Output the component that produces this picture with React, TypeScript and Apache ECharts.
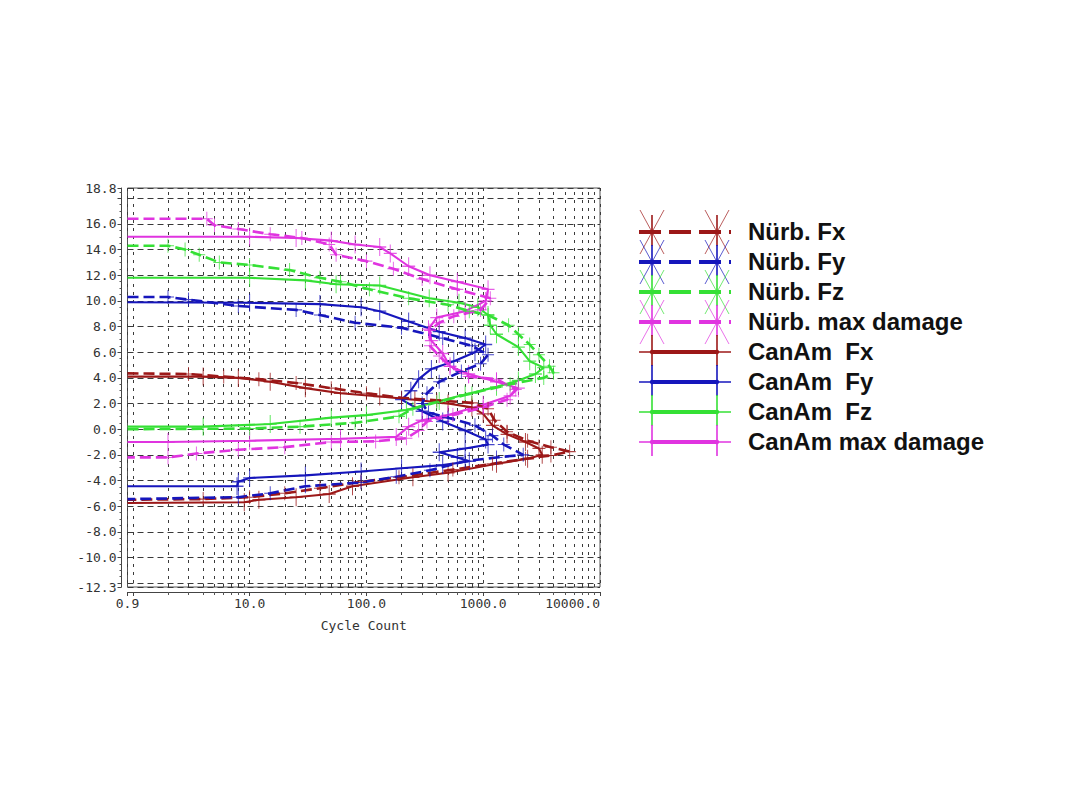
import React, { useEffect, useRef } from "react";
import * as echarts from "echarts";

// ---------- data (cycle count, range value) ----------
const nurbFx: [number, number][] = [
  [0.9, 4.35], [3, 4.3], [6, 4.1], [12, 3.9], [25, 3.6], [50, 3.2], [100, 2.8],
  [200, 2.45], [400, 2.25], [800, 2.05], [1100, 1.6], [1250, 0.7], [1600, -0.2],
  [2400, -0.9], [3800, -1.4], [5500, -1.75], [3800, -2.05], [2300, -2.3],
  [1200, -2.7], [550, -3.15], [190, -3.75], [90, -4.1], [40, -4.6], [20, -5.0],
  [10, -5.3], [4, -5.45], [0.9, -5.5],
];
const nurbFy: [number, number][] = [
  [0.9, 10.3], [2, 10.3], [3, 10.1], [8, 9.6], [25, 9.3], [40, 8.9], [80, 8.3],
  [200, 7.9], [450, 7.1], [800, 6.5], [1100, 5.8], [950, 5.1], [650, 4.5],
  [420, 3.7], [330, 2.8], [300, 2.0], [340, 1.3], [500, 0.9], [850, 0.3],
  [1200, -0.5], [1500, -1.2], [2200, -2.0], [1300, -2.2], [700, -2.5],
  [350, -3.2], [180, -3.7], [90, -4.15], [30, -4.45], [15, -5.0], [8, -5.3],
  [0.9, -5.45],
];
const nurbFz: [number, number][] = [
  [0.9, 14.3], [2, 14.3], [2.8, 14.0], [3.7, 13.6], [5.5, 13.0], [10, 12.8],
  [22, 12.4], [40, 11.8], [60, 11.5], [106, 10.9], [230, 10.2], [500, 9.7],
  [760, 9.2], [1100, 8.9], [1650, 8.1], [2000, 7.4], [2500, 6.6], [3000, 5.8],
  [3700, 4.9], [4000, 4.4], [3300, 4.0], [1700, 3.5], [800, 2.8], [400, 2.1],
  [250, 1.6], [190, 1.0], [80, 0.5], [27, 0.2], [10, 0.05], [0.9, 0.0],
];
const nurbMax: [number, number][] = [
  [0.9, 16.4], [4.3, 16.4], [5, 15.9], [8, 15.6], [15, 15.2], [28, 14.9],
  [48, 14.4], [55, 13.6], [100, 13.1], [170, 12.5], [300, 11.7], [600, 10.9],
  [1150, 10.2], [950, 9.3], [560, 8.8], [420, 8.3], [350, 7.7], [350, 6.5],
  [420, 5.7], [520, 4.9], [750, 4.1], [1300, 3.9], [1900, 3.1], [1600, 2.3],
  [1000, 1.7], [550, 1.1], [330, 0.6], [280, -0.1], [220, -0.7], [120, -0.95],
  [50, -1.0], [20, -1.4], [8, -1.6], [3.5, -1.9], [2, -2.2], [0.9, -2.2],
];
const canFx: [number, number][] = [
  [0.9, 4.1], [4, 4.1], [8, 4.0], [15, 3.7], [30, 3.2], [60, 2.8], [130, 2.55],
  [260, 2.3], [500, 2.0], [800, 1.7], [1000, 1.2], [1200, 0.3], [1600, -0.4],
  [2300, -1.0], [3000, -1.5], [3200, -2.0], [2400, -2.3], [1300, -2.7],
  [500, -3.4], [250, -3.75], [76, -4.45], [48, -5.05], [25, -5.3], [12, -5.5],
  [9, -5.7], [0.9, -5.75],
];
const canFy: [number, number][] = [
  [0.9, 9.9], [10, 9.85], [40, 9.75], [90, 9.5], [130, 9.2], [230, 8.4],
  [420, 7.6], [700, 7.1], [1050, 6.6], [850, 6.0], [560, 5.3], [360, 4.7],
  [280, 3.9], [240, 3.0], [200, 2.3], [300, 1.4], [450, 0.6], [700, -0.1],
  [1050, -0.8], [1100, -1.2], [700, -1.5], [420, -1.8], [600, -2.2],
  [760, -2.5], [450, -2.8], [200, -3.05], [90, -3.3], [30, -3.6], [10, -3.8],
  [8, -4.1], [7.8, -4.45], [0.9, -4.45],
];
const canFz: [number, number][] = [
  [0.9, 11.8], [10, 11.8], [30, 11.6], [55, 11.3], [130, 11.2], [345, 10.2],
  [620, 9.85], [900, 9.5], [1100, 8.9], [1150, 8.1], [1300, 7.4], [2000, 6.4],
  [2500, 5.3], [3300, 4.8], [2800, 4.3], [2000, 3.8], [1300, 3.3], [700, 2.7],
  [420, 2.2], [220, 1.5], [100, 1.1], [50, 0.9], [15, 0.4], [4, 0.2], [0.9, 0.2],
];
const canMax: [number, number][] = [
  [0.9, 15.0], [10, 15.0], [25, 14.9], [50, 14.7], [80, 14.4], [130, 14.2],
  [160, 13.7], [230, 12.7], [350, 12.0], [600, 11.5], [1100, 10.9],
  [1050, 10.0], [700, 9.2], [400, 8.7], [340, 7.8], [360, 6.9], [450, 5.9],
  [520, 4.9], [750, 4.3], [1300, 3.7], [2000, 3.2], [1700, 2.6], [1000, 1.9],
  [500, 1.1], [300, 0.7], [230, 0.2], [180, -0.6], [60, -0.75], [10, -0.9],
  [2, -1.0], [0.9, -1.0],
];

const minorGridX = [
  2, 3, 4, 5, 6, 7, 8, 9,
  20, 30, 40, 50, 60, 70, 80, 90,
  200, 300, 400, 500, 600, 700, 800, 900,
  2000, 3000, 4000, 5000, 6000, 7000, 8000, 9000,
];

const legendNames = [
  "Nürb. Fx", "Nürb. Fy", "Nürb. Fz", "Nürb. max damage",
  "CanAm  Fx", "CanAm  Fy", "CanAm  Fz", "CanAm max damage",
];

const RED = "#9c1818";
const BLUE = "#1616bc";
const GREEN = "#35e035";
const MAGENTA = "#e034e0";

const PLUS =
  "path://M-0.6,-8 L0.6,-8 L0.6,-0.6 L8,-0.6 L8,0.6 L0.6,0.6 L0.6,8 L-0.6,8 L-0.6,0.6 L-8,0.6 L-8,-0.6 L-0.6,-0.6 Z";

const AXIS_FONT = "DejaVu Sans Mono";

function makeSeries(
  name: string,
  data: [number, number][],
  color: string,
  dashed: boolean
) {
  const last = data.length - 1;
  return {
    type: "line",
    name,
    data,
    z: dashed ? 4 : 3,
    showSymbol: true,
    showAllSymbol: true,
    symbol: (_v: any, p: any) =>
      p.dataIndex === 0 || p.dataIndex === last ? "none" : PLUS,
    symbolSize: dashed ? [12, 14] : [13, 18],
    symbolKeepAspect: false,
    itemStyle: { color, borderWidth: 0, opacity: 0.8 },
    lineStyle: {
      color,
      width: dashed ? 2.6 : 2.1,
      type: dashed ? [11, 5] : "solid",
    },
    emphasis: { disabled: true },
  };
}

function buildLegend() {
  const items = [
    { color: RED, dashed: true },
    { color: BLUE, dashed: true },
    { color: GREEN, dashed: true },
    { color: MAGENTA, dashed: true },
    { color: RED, dashed: false },
    { color: BLUE, dashed: false },
    { color: GREEN, dashed: false },
    { color: MAGENTA, dashed: false },
  ];
  const els: any[] = [];
  const mx = [652, 717];
  items.forEach((it, i) => {
    const y = 232 + 30 * i;
    mx.forEach((x) => {
      els.push({
        type: "line",
        shape: { x1: x, y1: y - 17, x2: x, y2: y + 14 },
        style: { stroke: it.color, lineWidth: 1.6 },
      });
      if (it.dashed) {
        els.push({
          type: "line",
          shape: { x1: x - 12, y1: y - 22, x2: x + 12, y2: y + 22 },
          style: { stroke: it.color, lineWidth: 1, opacity: 0.7 },
        });
        els.push({
          type: "line",
          shape: { x1: x + 12, y1: y - 22, x2: x - 12, y2: y + 22 },
          style: { stroke: it.color, lineWidth: 1, opacity: 0.7 },
        });
      }
    });
    if (it.dashed) {
      els.push({
        type: "line",
        shape: { x1: 639, y1: y, x2: 731, y2: y },
        style: { stroke: it.color, lineWidth: 4, lineDash: [22, 8] },
      });
    } else {
      els.push({
        type: "line",
        shape: { x1: 639, y1: y, x2: 731, y2: y },
        style: { stroke: it.color, lineWidth: 1.6 },
      });
      els.push({
        type: "line",
        shape: { x1: 652, y1: y, x2: 717, y2: y },
        style: { stroke: it.color, lineWidth: 4 },
      });
    }
    els.push({
      type: "circle",
      shape: { cx: 652, cy: y, r: 2.2 },
      style: { fill: it.color },
    });
    els.push({
      type: "circle",
      shape: { cx: 717, cy: y, r: 2.2 },
      style: { fill: it.color },
    });
    els.push({
      type: "text",
      x: 748,
      y: y - 1,
      style: {
        text: legendNames[i],
        fill: "#111",
        font: 'bold 24px "Liberation Sans", Arial, sans-serif',
        verticalAlign: "middle",
        align: "left",
      },
    });
  });
  return els;
}

export default function App() {
  const ref = useRef<HTMLDivElement>(null);
  useEffect(() => {
    if (!ref.current) return;
    const chart = echarts.init(ref.current, null, { renderer: "svg" });
    const gridLine = { color: "#3a3a3a", width: 1 };
    const option: any = {
      animation: false,
      backgroundColor: "#ffffff",
      grid: {
        left: 127.5,
        top: 188,
        right: 480,
        bottom: 223,
        show: true,
        borderColor: "#555",
        borderWidth: 1,
        backgroundColor: "transparent",
      },
      xAxis: {
        type: "log",
        logBase: 10,
        min: 0.9,
        max: 10000,
        offset: 5,
        name: "Cycle Count",
        nameLocation: "middle",
        nameGap: 27,
        nameTextStyle: { fontFamily: AXIS_FONT, fontSize: 13, color: "#333" },
        axisLine: { show: true, onZero: false, lineStyle: { color: "#444", width: 1 } },
        axisTick: { show: true, length: 4, lineStyle: { color: "#444" } },
        minorTick: { show: true, splitNumber: 9, length: 3, lineStyle: { color: "#555" } },
        axisLabel: {
          fontFamily: AXIS_FONT,
          fontSize: 13,
          color: "#333",
          margin: 5,
          showMinLabel: true,
          showMaxLabel: true,
          alignMaxLabel: "right",
          formatter: (v: number) => (Math.abs(v - 1) < 1e-9 ? "" : Number(v).toFixed(1)),
        },
        splitLine: { show: true, lineStyle: { ...gridLine, type: [3, 5] } },
      },
      yAxis: {
        type: "value",
        min: -12.3,
        max: 18.8,
        splitNumber: 15,
        minInterval: 2,
        maxInterval: 2,
        offset: 6,
        axisLine: { show: true, onZero: false, lineStyle: { color: "#444", width: 1 } },
        axisTick: { show: true, length: 4, lineStyle: { color: "#444" } },
        minorTick: { show: true, splitNumber: 4, length: 2, lineStyle: { color: "#555" } },
        axisLabel: {
          fontFamily: AXIS_FONT,
          fontSize: 13,
          color: "#333",
          margin: 5,
          showMinLabel: true,
          showMaxLabel: true,
          formatter: (v: number) =>
            Math.abs(v + 12) < 1e-9 || Math.abs(v - 18) < 1e-9 ? "" : Number(v).toFixed(1),
        },
        splitLine: { show: true, lineStyle: { ...gridLine, type: [6, 4] } },
      },
      series: [
        {
          type: "line",
          name: "minor grid",
          data: [],
          silent: true,
          z: 1,
          markLine: {
            silent: true,
            z: 1,
            symbol: ["none", "none"],
            label: { show: false },
            lineStyle: { ...gridLine, type: [3, 5] },
            emphasis: { disabled: true },
            data: minorGridX.map((v) => ({ xAxis: v })),
          },
        },
        makeSeries("CanAm  Fx", canFx, RED, false),
        makeSeries("CanAm  Fy", canFy, BLUE, false),
        makeSeries("CanAm  Fz", canFz, GREEN, false),
        makeSeries("CanAm max damage", canMax, MAGENTA, false),
        makeSeries("Nürb. Fx", nurbFx, RED, true),
        makeSeries("Nürb. Fy", nurbFy, BLUE, true),
        makeSeries("Nürb. Fz", nurbFz, GREEN, true),
        makeSeries("Nürb. max damage", nurbMax, MAGENTA, true),
      ],
      graphic: buildLegend(),
    };
    chart.setOption(option);
    return () => chart.dispose();
  }, []);
  return (
    <div
      ref={ref}
      style={{ position: "absolute", left: 0, top: 0, width: 1080, height: 810, background: "#fff" }}
    />
  );
}
